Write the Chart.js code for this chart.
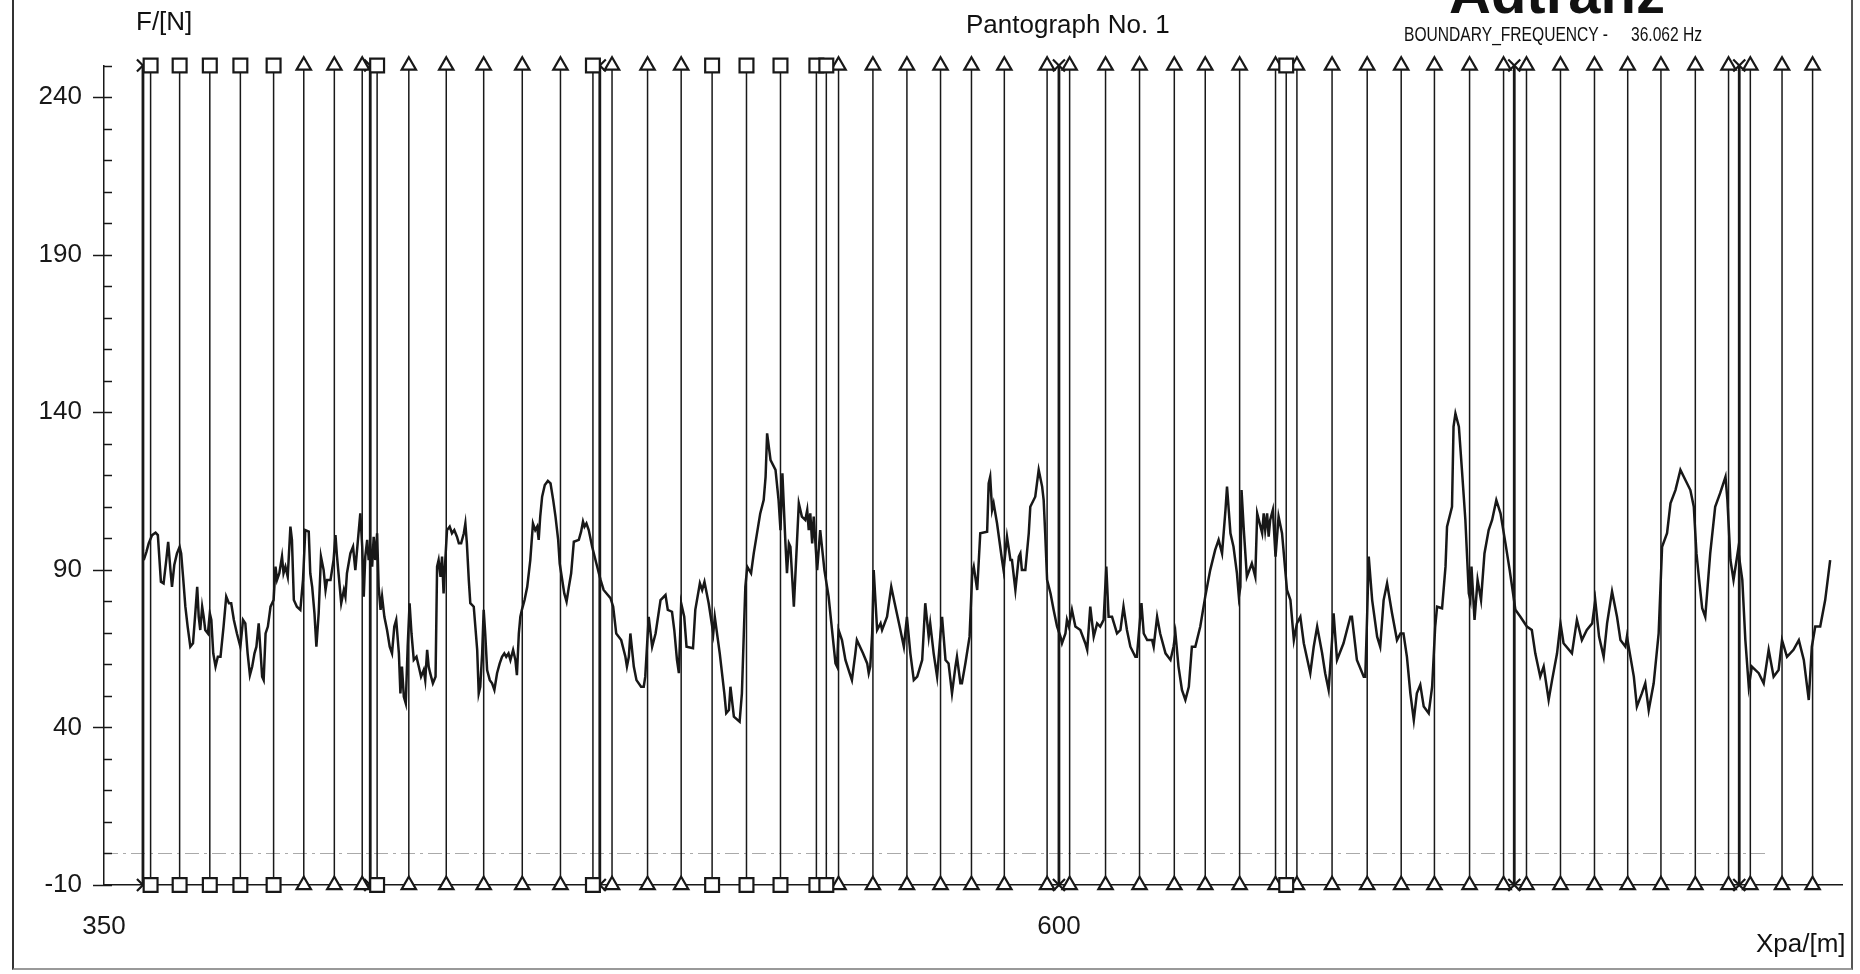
<!DOCTYPE html>
<html lang="en">
<head>
    <meta charset="UTF-8">
    <title>Pantograph No. 1</title>
    <script src="https://cdn.jsdelivr.net/npm/chart.js"></script>
    <style>
        body {
            margin: 0;
            background: #fff;
            width: 1860px;
            height: 974px;
            overflow: hidden;
            position: relative;
            font-family: "Liberation Sans", Arial, sans-serif;
        }
        canvas {
            position: absolute;
            left: 0;
            top: 0;
        }
        #frame {
            position: absolute;
            left: 12px;
            top: -4px;
            width: 1837px;
            height: 972px;
            border-left: 2px solid #333;
            border-right: 2px solid #555;
            border-bottom: 2px solid #999;
        }
        .lbl {
            position: absolute;
            line-height: 1;
            white-space: nowrap;
            color: #111;
            font-size: 26px;
        }
        .narrow {
            font-size: 20px;
            transform: scaleX(0.78);
            transform-origin: left top;
        }
    </style>
</head>
<body>
    <div id="frame"></div>
    <canvas id="forceChart" width="1860" height="974"></canvas>
    <div class="lbl" style="left:136px; top:8px;">F/[N]</div>
    <div class="lbl" style="left:966px; top:11px;">Pantograph No. 1</div>
    <div class="lbl" style="left:1449px; top:-36px; font-size:58px; font-weight:bold;">Adtranz</div>
    <div class="lbl narrow" style="left:1404px; top:24px;">BOUNDARY_FREQUENCY -</div>
    <div class="lbl narrow" style="left:1631px; top:24px;">36.062 Hz</div>
    <div class="lbl" style="left:1756px; top:930px;">Xpa/[m]</div>
    <script>
        // axis ticks
        const xTickValues = [350, 600];
        const markerLevels = [-10, 250];
        const refLineX = [350, 785];
        const refLineY = [0, 0];

        // marker positions along the track (m)
        const squareX = [362.2, 369.8, 377.7, 385.7, 394.4, 421.5, 478.0, 509.2, 518.2, 527.1, 536.5, 539.1, 659.5];
        const triangleX = [402.3, 410.3, 417.6, 429.8, 439.6, 449.4, 459.5, 469.5, 483.0, 492.3, 501.1,
            542.3, 551.3, 560.2, 569.0, 577.1, 585.7, 596.9, 602.8, 612.2, 621.1, 630.2, 638.3, 647.3,
            656.7, 662.3, 671.5, 680.7, 689.6, 698.3, 707.5, 716.4, 722.4, 731.3, 740.2, 748.9, 757.6,
            766.6, 775.3, 781.0, 789.3, 797.3];
        const crossX = [360.2, 419.7, 479.8, 600.0, 719.2, 778.1];

        // contact force trace
        const positionM = [
            360.4, 361.1, 361.7, 362.6, 363.5, 364.1, 364.9, 365.6, 366.3, 366.8,
            367.4, 367.8, 368.4, 369.1, 369.8, 370.2, 370.7, 371.3, 371.9, 372.6,
            373.3, 373.9, 374.4, 374.8, 375.2, 375.7, 376.1, 376.5, 377.2, 377.7,
            378.1, 378.6, 379.2, 379.8, 380.5, 381.3, 382.0, 382.7, 383.3, 384.0,
            384.8, 385.7, 386.4, 387.0, 387.6, 388.2, 388.8, 389.4, 389.9, 390.5,
            390.9, 391.4, 391.8, 392.3, 392.9, 393.6, 394.4, 394.9, 395.3, 395.9,
            396.6, 397.0, 397.5, 398.1, 398.8, 399.2, 399.7, 400.5, 401.4, 402.1,
            402.7, 403.6, 404.0, 404.5, 405.1, 405.6, 406.2, 406.8, 407.5, 408.0,
            408.4, 409.3, 410.1, 410.6, 411.0, 411.4, 412.1, 412.8, 413.2, 413.6,
            414.5, 415.2, 415.8, 416.4, 417.1, 417.6, 418.0, 418.4, 418.9, 419.3,
            419.7, 420.2, 420.6, 421.0, 421.5, 421.9, 422.4, 422.8, 423.4, 424.1,
            424.8, 425.4, 426.0, 426.5, 427.2, 427.6, 428.0, 428.5, 429.0, 429.5,
            430.0, 430.5, 431.1, 431.8, 432.4, 433.0, 433.7, 434.1, 434.6, 435.0,
            435.4, 436.1, 436.8, 437.2, 437.6, 438.1, 438.5, 438.9, 439.4, 439.8,
            440.5, 441.1, 441.7, 442.4, 442.9, 443.5, 444.2, 444.6, 445.0, 445.5,
            445.9, 446.8, 447.7, 448.1, 448.5, 449.0, 449.4, 449.8, 450.3, 451.0,
            451.6, 452.2, 452.9, 453.6, 454.2, 454.8, 455.3, 455.9, 456.4, 457.1,
            457.7, 458.1, 458.6, 459.0, 459.4, 460.1, 460.8, 461.6, 462.3, 462.9,
            463.4, 463.8, 464.2, 464.7, 465.4, 466.2, 466.9, 467.6, 468.2, 468.9,
            469.3, 470.5, 471.1, 471.7, 472.3, 473.0, 474.3, 474.9, 475.4, 475.8,
            476.3, 476.9, 477.8, 478.9, 480.0, 480.8, 481.9, 482.6, 483.3, 484.1,
            485.4, 486.5, 486.9, 487.4, 487.8, 488.7, 489.4, 490.6, 491.3, 491.7,
            492.2, 492.6, 493.5, 494.4, 495.7, 497.0, 497.6, 498.7, 499.3, 500.0,
            500.5, 501.1, 501.9, 502.5, 504.2, 504.8, 506.0, 506.6, 507.2, 508.3,
            509.5, 509.9, 511.2, 512.4, 512.9, 513.6, 514.0, 514.9, 516.4, 517.0,
            517.5, 517.9, 518.4, 519.4, 520.1, 521.8, 522.7, 523.2, 523.6, 524.5,
            525.8, 526.6, 527.1, 527.6, 528.4, 528.8, 529.3, 529.7, 530.6, 531.4,
            531.9, 532.7, 533.6, 534.1, 534.5, 534.9, 535.4, 535.8, 536.7, 537.5,
            538.6, 539.7, 540.6, 541.5, 541.9, 542.3, 543.2, 544.1, 545.2, 545.8,
            546.7, 547.1, 548.7, 549.8, 550.2, 550.6, 551.1, 551.5, 552.4, 553.3,
            553.7, 555.0, 556.1, 557.0, 558.3, 559.4, 560.2, 561.1, 562.0, 562.9,
            564.2, 565.0, 565.9, 566.3, 567.2, 568.1, 569.0, 569.4, 570.3, 571.1,
            572.0, 572.9, 573.3, 574.2, 574.6, 575.5, 576.6, 577.3, 577.7, 578.6,
            579.4, 581.2, 581.6, 582.0, 582.5, 582.9, 583.8, 585.1, 585.5, 586.4,
            587.3, 587.7, 588.6, 589.5, 589.9, 590.3, 591.2, 592.1, 592.5, 593.8,
            594.7, 595.6, 596.0, 596.4, 596.9, 597.8, 598.6, 599.5, 600.4, 600.8,
            601.7, 602.1, 602.6, 603.4, 604.3, 605.6, 606.9, 607.4, 608.2, 609.1,
            610.0, 610.8, 611.7, 612.4, 613.0, 613.9, 615.2, 616.1, 616.9, 617.8,
            618.7, 620.0, 620.4, 621.6, 622.2, 623.1, 624.4, 624.8, 625.7, 626.5,
            627.9, 629.2, 630.0, 630.5, 631.3, 632.2, 633.1, 634.0, 634.8, 635.7,
            637.0, 638.3, 639.6, 640.9, 641.8, 642.7, 643.6, 644.0, 644.9, 645.7,
            646.6, 647.1, 647.5, 647.8, 648.4, 649.2, 650.5, 651.4, 651.9, 653.2,
            653.6, 654.0, 654.5, 654.9, 655.3, 656.0, 656.7, 657.5, 658.4, 659.7,
            660.6, 661.5, 662.3, 663.2, 664.1, 665.8, 666.7, 667.6, 668.9, 669.7,
            670.6, 671.5, 671.9, 672.8, 674.5, 676.3, 676.7, 678.0, 679.8, 680.2,
            680.7, 681.1, 682.0, 683.3, 684.1, 685.0, 685.9, 687.2, 688.5, 689.4,
            690.2, 691.1, 692.0, 692.9, 693.7, 694.6, 695.5, 696.8, 697.7, 698.5,
            699.0, 700.3, 701.2, 701.6, 702.9, 703.3, 703.8, 704.7, 705.5, 706.4,
            707.3, 707.7, 708.0, 708.8, 709.6, 710.5, 711.4, 712.5, 713.4, 714.5,
            715.6, 716.9, 718.0, 719.5, 720.8, 722.5, 723.8, 724.7, 726.0, 726.9,
            728.2, 729.1, 730.4, 731.3, 732.1, 734.3, 735.6, 736.9, 738.2, 739.6,
            740.4, 741.4, 742.6, 743.5, 744.8, 746.1, 747.0, 748.3, 748.7, 750.5,
            751.3, 752.6, 753.5, 754.4, 755.7, 757.0, 757.9, 759.2, 760.1, 761.4,
            762.7, 764.0, 765.3, 766.2, 766.9, 767.6, 768.4, 769.2, 770.5, 771.8,
            773.1, 774.5, 775.0, 775.8, 776.6, 777.8, 778.9, 779.7, 780.6, 781.4,
            783.2, 784.5, 785.8, 787.1, 788.4, 789.3, 790.6, 792.3, 793.7, 795.0,
            796.3, 797.1, 798.0, 799.3, 800.6, 801.9
        ];
        const forceN = [
            93.1, 95.7, 98.4, 101.0, 101.8, 101.0, 86.2, 85.7, 93.1, 98.9,
            89.9, 84.6, 91.5, 95.2, 97.3, 95.2, 87.8, 78.3, 72.0, 65.6,
            66.7, 76.2, 84.6, 75.1, 70.9, 78.3, 75.1, 70.9, 69.8, 76.2,
            74.1, 63.5, 59.3, 62.4, 62.4, 72.0, 81.5, 79.4, 79.4, 74.1,
            69.8, 65.6, 74.1, 73.0, 63.5, 56.6, 59.3, 63.5, 65.6, 73.0,
            65.6, 56.1, 55.0, 69.8, 72.0, 78.3, 80.4, 91.0, 86.8, 88.9,
            94.2, 88.9, 91.0, 87.8, 103.7, 99.5, 80.4, 78.3, 77.3, 86.8,
            102.6, 102.1, 88.9, 84.6, 76.2, 65.6, 76.2, 94.2, 89.9, 83.6,
            86.8, 86.8, 93.1, 101.0, 94.2, 88.9, 79.4, 83.6, 81.5, 88.9,
            95.2, 97.3, 89.9, 98.4, 107.9, 97.3, 81.5, 94.2, 99.5, 93.1,
            97.3, 91.0, 100.5, 93.1, 101.6, 84.6, 77.3, 81.5, 75.1, 70.9,
            65.6, 63.5, 72.0, 74.1, 63.5, 50.8, 59.3, 49.7, 47.6, 65.6,
            79.4, 69.8, 61.4, 62.4, 59.3, 56.1, 58.2, 55.0, 64.6, 59.3,
            57.2, 54.0, 56.1, 91.0, 93.1, 87.8, 94.2, 82.5, 94.2, 102.6,
            103.7, 101.6, 102.6, 100.5, 98.4, 98.4, 101.6, 104.7, 98.4, 86.8,
            79.4, 78.3, 64.6, 50.8, 52.9, 63.5, 77.3, 69.8, 58.2, 55.0,
            54.0, 51.9, 57.2, 60.3, 62.4, 63.5, 62.4, 63.5, 61.4, 64.6,
            61.4, 56.6, 69.8, 75.1, 77.3, 80.4, 84.6, 93.1, 104.7, 102.6,
            103.7, 99.5, 106.9, 113.2, 116.9, 118.2, 117.4, 112.1, 106.9, 99.5,
            92.0, 82.5, 79.9, 84.6, 88.9, 98.9, 99.5, 102.1, 105.3, 103.7,
            104.7, 102.6, 97.3, 92.0, 86.8, 83.6, 82.0, 81.0, 78.3, 69.8,
            67.7, 62.4, 59.3, 62.4, 69.8, 59.3, 55.0, 52.9, 52.9, 56.1,
            66.7, 75.1, 65.6, 69.8, 80.4, 82.0, 77.3, 76.7, 70.9, 61.4,
            57.2, 79.4, 75.1, 65.6, 65.1, 77.3, 85.7, 83.6, 86.2, 79.4,
            69.8, 75.1, 63.5, 50.8, 44.5, 45.5, 52.9, 43.4, 41.8, 50.8,
            69.8, 84.6, 91.0, 88.9, 95.2, 107.9, 112.1, 119.5, 133.3, 124.8,
            121.7, 112.1, 102.6, 120.6, 98.4, 88.9, 98.4, 97.3, 78.3, 98.4,
            111.1, 106.9, 105.8, 109.0, 102.6, 107.9, 98.4, 106.9, 89.9, 102.6,
            89.9, 81.5, 70.9, 60.3, 59.3, 70.9, 67.7, 61.4, 57.2, 55.0,
            63.5, 67.7, 63.5, 60.3, 57.2, 59.3, 69.8, 89.9, 70.9, 73.0,
            70.9, 75.1, 84.6, 79.4, 72.0, 65.6, 75.1, 63.5, 55.0, 56.1,
            61.4, 79.4, 68.8, 73.0, 63.5, 56.1, 69.8, 75.1, 61.4, 60.3,
            50.8, 59.3, 62.4, 54.0, 54.0, 60.3, 68.8, 88.9, 91.0, 83.6,
            101.6, 102.1, 117.4, 119.5, 109.0, 111.1, 104.7, 93.1, 89.9, 100.5,
            93.1, 93.1, 83.6, 94.2, 95.2, 89.9, 89.9, 101.6, 110.0, 113.2,
            121.7, 116.4, 112.1, 101.6, 86.8, 82.5, 77.3, 72.0, 68.8, 66.7,
            69.8, 74.1, 72.0, 77.3, 72.0, 70.9, 66.7, 64.6, 78.3, 68.8,
            73.0, 72.0, 74.1, 91.0, 75.1, 75.1, 69.8, 70.9, 78.3, 70.9,
            65.6, 62.4, 62.4, 79.4, 69.8, 67.7, 67.7, 65.6, 75.1, 69.8,
            63.5, 61.4, 65.6, 69.8, 59.3, 51.9, 48.7, 52.9, 65.6, 65.6,
            72.0, 81.5, 89.9, 96.3, 99.5, 95.2, 109.0, 116.4, 101.6, 97.3,
            88.9, 81.5, 84.6, 115.3, 102.6, 87.8, 92.0, 87.8, 107.9, 101.6,
            107.9, 102.6, 107.9, 100.5, 105.8, 109.0, 94.2, 106.9, 101.6, 83.6,
            80.4, 67.7, 73.0, 75.1, 66.7, 57.2, 65.6, 72.0, 63.5, 57.2,
            51.9, 67.7, 76.2, 61.4, 66.7, 75.1, 75.1, 61.4, 56.1, 56.1,
            76.2, 94.2, 80.4, 68.8, 65.6, 80.4, 85.7, 76.2, 67.7, 69.8,
            69.8, 62.4, 50.8, 42.3, 50.8, 53.5, 46.6, 44.5, 52.9, 72.0,
            78.3, 77.8, 91.0, 103.7, 110.0, 135.4, 139.6, 135.4, 121.7, 105.8,
            82.5, 80.4, 91.0, 74.1, 86.8, 80.4, 95.2, 102.6, 105.8, 112.1,
            107.9, 98.4, 89.9, 77.3, 75.1, 72.0, 70.9, 63.5, 56.1, 59.3,
            48.7, 55.0, 63.5, 73.0, 66.7, 63.5, 74.1, 67.7, 70.9, 73.0,
            80.4, 68.8, 62.4, 73.0, 83.1, 75.1, 67.7, 65.6, 68.8, 56.1,
            46.6, 50.8, 54.0, 45.5, 54.0, 69.8, 97.3, 101.6, 111.1, 115.3,
            121.7, 118.5, 115.3, 110.0, 95.2, 86.8, 77.8, 75.1, 95.2, 110.0,
            114.3, 119.5, 112.1, 93.1, 86.8, 96.3, 86.8, 67.7, 52.9, 59.3,
            57.2, 54.0, 64.6, 56.1, 58.2, 67.7, 62.4, 64.6, 67.7, 61.4,
            48.7, 65.6, 72.0, 72.0, 80.4, 93.1
        ];

        const ink = '#181818';
        const tickFont = { family: '"Liberation Sans", Arial, sans-serif', size: 26 };

        // vertical marker lines: bottom level to top level, broken by nulls
        function stems(xs) {
            const pts = [];
            xs.forEach(x => {
                pts.push({ x: x, y: markerLevels[0] }, { x: x, y: markerLevels[1] }, { x: x, y: null });
            });
            return pts;
        }
        function ends(xs) {
            const pts = [];
            xs.forEach(x => {
                markerLevels.forEach(y => pts.push({ x: x, y: y }));
            });
            return pts;
        }

        // tick marks on the y axis: labelled ones cross the axis, minor ones point inward
        const yTickMarks = {
            id: 'yTickMarks',
            afterDraw(chart) {
                const ys = chart.scales.y;
                const x0 = chart.scales.x.left;
                const c = chart.ctx;
                c.save();
                c.strokeStyle = ink;
                c.lineWidth = 1.5;
                ys.ticks.forEach(t => {
                    const py = Math.round(ys.getPixelForValue(t.value)) + 0.5;
                    const major = (t.value + 10) % 50 === 0;
                    c.beginPath();
                    c.moveTo(x0 - (major ? 11 : 0), py);
                    c.lineTo(x0 + 8, py);
                    c.stroke();
                });
                c.restore();
            }
        };

        const markerStyle = {
            showLine: false,
            borderColor: ink,
            backgroundColor: '#fff',
            pointBorderWidth: 2.2,
            clip: false,
            order: 0
        };

        new Chart(document.getElementById('forceChart'), {
            type: 'line',
            data: {
                datasets: [
                    Object.assign({ data: ends(squareX), pointStyle: 'rect', pointRadius: 9.8 }, markerStyle),
                    Object.assign({ data: ends(triangleX), pointStyle: 'triangle', pointRadius: 8.3 }, markerStyle),
                    Object.assign({ data: ends(crossX), pointStyle: 'crossRot', pointRadius: 8.5 }, markerStyle),
                    {
                        data: positionM.map((x, i) => ({ x: x, y: forceN[i] })),
                        borderColor: ink,
                        borderWidth: 2.5,
                        pointRadius: 0,
                        tension: 0,
                        order: 1
                    },
                    {
                        data: stems(squareX.concat(triangleX)),
                        borderColor: ink,
                        borderWidth: 1.5,
                        pointRadius: 0,
                        spanGaps: false,
                        clip: false,
                        order: 2
                    },
                    {
                        data: stems(crossX),
                        borderColor: ink,
                        borderWidth: 2.8,
                        pointRadius: 0,
                        spanGaps: false,
                        clip: false,
                        order: 2
                    },
                    {
                        data: refLineX.map((x, i) => ({ x: x, y: refLineY[i] })),
                        borderColor: '#aaa',
                        borderWidth: 1.2,
                        borderDash: [14, 5, 3, 5],
                        pointRadius: 0,
                        order: 3
                    }
                ]
            },
            options: {
                responsive: false,
                animation: false,
                events: [],
                layout: { padding: { left: 14, right: 18, top: 65.5, bottom: 9 } },
                plugins: {
                    legend: { display: false },
                    tooltip: { enabled: false }
                },
                scales: {
                    x: {
                        type: 'linear',
                        min: 350,
                        max: 805,
                        grid: { display: false, drawTicks: false },
                        border: { display: true, color: ink, width: 1.5 },
                        ticks: { font: tickFont, color: ink, padding: 26, maxRotation: 0, autoSkip: false },
                        afterBuildTicks: s => { s.ticks = xTickValues.map(v => ({ value: v })); },
                        afterFit: s => { s.height = 80; }
                    },
                    y: {
                        min: -10,
                        max: 250,
                        grid: { display: false, drawTicks: false },
                        border: { display: true, color: ink, width: 1.5 },
                        ticks: {
                            stepSize: 10,
                            autoSkip: false,
                            font: tickFont,
                            color: ink,
                            padding: 22,
                            callback: v => ((v + 10) % 50 === 0 ? String(v) : '')
                        },
                        afterFit: s => { s.width = 90; }
                    }
                }
            },
            plugins: [yTickMarks]
        });
    </script>
</body>
</html>
